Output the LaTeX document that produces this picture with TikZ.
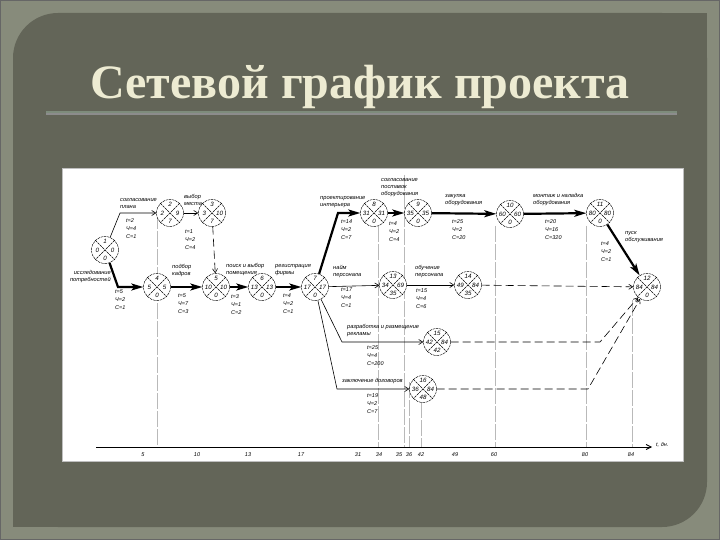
\documentclass[tikz,border=0pt]{standalone}
\usepackage{fontspec}
\setmainfont{Liberation Serif}
\newfontfamily\labfamily{Liberation Sans}
\usetikzlibrary{arrows.meta}
\definecolor{outerbg}{HTML}{878B7B}
\definecolor{panel}{HTML}{636558}
\definecolor{titlec}{HTML}{EDEBD2}
\definecolor{rulec}{HTML}{7E8C7C}
\newcommand\labf{\labfamily\itshape\fontsize{5.7}{7}\selectfont}
\newcommand\parf{\labfamily\itshape\fontsize{5.5}{8}\selectfont}
\newcommand\numf{\labfamily\itshape\fontsize{6.2}{6}\selectfont}
\newcommand\tickf{\labfamily\itshape\fontsize{5.5}{6}\selectfont}
\tikzset{
 ev/.style={circle, draw, fill=white, minimum size=27pt, inner sep=0pt, line width=0.45pt, dash pattern=on 2.5pt off 0.8pt},
 evx/.style={line width=0.45pt, dash pattern=on 2.5pt off 0.8pt},
 evn/.style={font=\numf, inner sep=0pt},
 lab/.style={font=\labf, inner sep=0pt, align=left},
 par/.style={font=\parf, inner sep=0pt, align=left},
 thk/.style={line width=2.2pt, -{Stealth[length=12pt,width=7pt,inset=3pt]}},
 thn/.style={line width=0.6pt, -{Straight Barb[length=4pt,width=5pt]}},
 dsh/.style={thn, dash pattern=on 8pt off 4pt},
 gline/.style={draw=gray!55, line width=0.6pt, dash pattern=on 16pt off 2pt},
 tick/.style={font=\tickf, inner sep=0pt}
}
\newcommand\evt[7]{%
 \node[ev] (#1) at (#2,#3) {};
 \draw[evx] (#1.north west) -- (#1.south east) (#1.north east) -- (#1.south west);
 \node[evn] (#1-t) at ([yshift=8.3pt]#1.center) {#4};
 \node[evn] (#1-l) at ([xshift=-7.6pt]#1.center) {#5};
 \node[evn] (#1-r) at ([xshift=7.6pt]#1.center) {#6};
 \node[evn] (#1-b) at ([yshift=-8.3pt]#1.center) {#7};
}
\begin{document}
\begin{tikzpicture}[x=1pt,y=-1pt]
\useasboundingbox (0,0) rectangle (720,540);
% slide background
\fill[outerbg] (0,0) rectangle (720,540);
\draw[black!60, line width=1.2pt] (0.6,0.6) rectangle (719.4,539.4);
\fill[panel, rounded corners=45pt] (13,13) rectangle (707,527);
\fill[panel] (650,13) rectangle (707,70);
\fill[panel] (13,470) rectangle (70,527);
% title
\node[anchor=base, text=titlec, font=\bfseries\fontsize{48}{52}\selectfont] (title) at (360,99) {Сетевой график проекта};
\draw[black!45, line width=1.2pt] (46,114) -- (677,114);
\draw[rulec, line width=1.2pt] (46,112) -- (677,112);
% white sheet
\fill[white] (62,168) rectangle (683,461);
\draw[gray!50, line width=0.5pt] (62,168) rectangle (683,461);
% grey time lines
\foreach \gx/\gy in {157/213, 378/226, 404/175, 409/382, 421/402, 495/226, 586/226, 632/300}
  \draw[gline] (\gx,\gy) -- (\gx,447);
% time axis
\coordinate (ax0) at (96,447);
\coordinate (ax1) at (652,447);
\draw[line width=0.8pt, -{Straight Barb[length=5pt,width=5pt]}] (ax0) -- (ax1);
\node[tick, anchor=west] (axl) at (656,445) {t, дн.};
\foreach \tx/\tl in {143/5, 197/10, 248/13, 301/17, 358/31, 379/34, 399/35, 409/36, 421/42, 455/49, 494/60, 585/80, 631/84}
  \node[tick] (tk\tl) at (\tx,455) {\tl};
% events
\evt{n1}{105}{250}{1}{0}{0}{0}
\evt{n2}{170}{213}{2}{2}{9}{7}
\evt{n3}{212}{213}{3}{3}{10}{7}
\evt{n4}{157}{287}{4}{5}{5}{0}
\evt{n5}{216}{287}{5}{10}{10}{0}
\evt{n6}{262}{287}{6}{13}{13}{0}
\evt{n7}{315}{287}{7}{17}{17}{0}
\evt{n8}{374}{213}{8}{31}{31}{0}
\evt{n9}{418}{213}{9}{35}{35}{0}
\evt{n10}{510}{214}{10}{60}{60}{0}
\evt{n11}{600}{213}{11}{80}{80}{0}
\evt{n12}{647}{287}{12}{84}{84}{0}
\evt{n13}{393}{285}{13}{34}{69}{35}
\evt{n14}{468}{285}{14}{49}{84}{35}
\evt{n15}{437}{342}{15}{42}{84}{42}
\evt{n16}{423}{389}{16}{36}{84}{48}
% corner coordinates
\coordinate (c1) at (120,213);
\coordinate (c2) at (118,287);
\coordinate (c3) at (338,213);
\coordinate (c4) at (342,342);
\coordinate (c5) at (337,389);
\coordinate (c6) at (600,342);
\coordinate (c7) at (588,389);
% connectors
\draw[thn] (n1) -- (c1) -- (n2);
\draw[thn] (n2) -- (n3);
\draw[dsh] (n3) -- (n5);
\draw[thk] (n1) -- (c2) -- (n4);
\draw[thk] (n4) -- (n5);
\draw[thk] (n5) -- (n6);
\draw[thk] (n6) -- (n7);
\draw[thk] (n7) -- (c3) -- (n8);
\draw[thk] (n8) -- (n9);
\draw[thk] (n9) -- (n10);
\draw[thk] (n10) -- (n11);
\draw[thk] (n11) -- (n12);
\draw[thn] (n7) -- (n13);
\draw[thn] (n13) -- (n14);
\draw[dsh] (n14) -- (n12);
\draw[thn] (n7) -- (c4) -- (n15);
\draw[dsh] (n15) -- (c6) -- (n12);
\draw[thn] (n7) -- (c5) -- (n16);
\draw[dsh] (n16) -- (c7) -- (n12);
% activity labels
\node[lab, anchor=south west] (a12) at (120,209) {согласование\\плана};
\node[par, anchor=north west] (b12) at (126,218) {t=2\\Ч=4\\С=1};
\node[lab, anchor=south west] (a23) at (184,206) {выбор\\места};
\node[par, anchor=north west] (b23) at (185,230) {t=1\\Ч=2\\С=4};
\node[lab, anchor=north east, align=right] (a14) at (111,270) {исследование\\потребностей};
\node[par, anchor=north west] (b14) at (115,290) {t=5\\Ч=2\\С=1};
\node[lab, anchor=south west] (a45) at (172,277) {подбор\\кадров};
\node[par, anchor=north west] (b45) at (178,294) {t=5\\Ч=7\\С=3};
\node[lab, anchor=south west] (a56) at (226,276) {поиск и выбор\\помещения};
\node[par, anchor=north west] (b56) at (231,294) {t=3\\Ч=1\\С=2};
\node[lab, anchor=south west] (a67) at (275,276) {регистрация\\фирмы};
\node[par, anchor=north west] (b67) at (283,294) {t=4\\Ч=2\\С=1};
\node[lab, anchor=south west] (a78) at (320,208) {проектирование\\интерьера};
\node[par, anchor=north west] (b78) at (341,220) {t=14\\Ч=2\\С=7};
\node[lab, anchor=south west] (a89) at (381,197) {согласование\\поставок\\оборудования};
\node[par, anchor=north west] (b89) at (389,222) {t=4\\Ч=2\\С=4};
\node[lab, anchor=south west] (a910) at (445,206) {закупка\\оборудования};
\node[par, anchor=north west] (b910) at (452,219) {t=25\\Ч=2\\С=20};
\node[lab, anchor=south west] (a1011) at (533,206) {монтаж и наладка\\оборудования};
\node[par, anchor=north west] (b1011) at (545,219) {t=20\\Ч=16\\С=320};
\node[lab, anchor=north west] (a1112) at (625,231) {пуск\\обслуживания};
\node[par, anchor=north west] (b1112) at (601,242) {t=4\\Ч=2\\С=1};
\node[lab, anchor=south west] (a713) at (333,278) {найм\\персонала};
\node[par, anchor=north west] (b713) at (341,288) {t=17\\Ч=4\\С=1};
\node[lab, anchor=south west] (a1314) at (415,278) {обучение\\персонала};
\node[par, anchor=north west] (b1314) at (416,289) {t=15\\Ч=4\\С=6};
\node[lab, anchor=south west] (a715) at (347,337) {разработка и размещение\\рекламы};
\node[par, anchor=north west] (b715) at (367,345) {t=25\\Ч=4\\С=200};
\node[lab, anchor=south west] (a716) at (342,384) {заключение договоров};
\node[par, anchor=north west] (b716) at (367,393) {t=19\\Ч=2\\С=7};
\end{tikzpicture}
\end{document}
